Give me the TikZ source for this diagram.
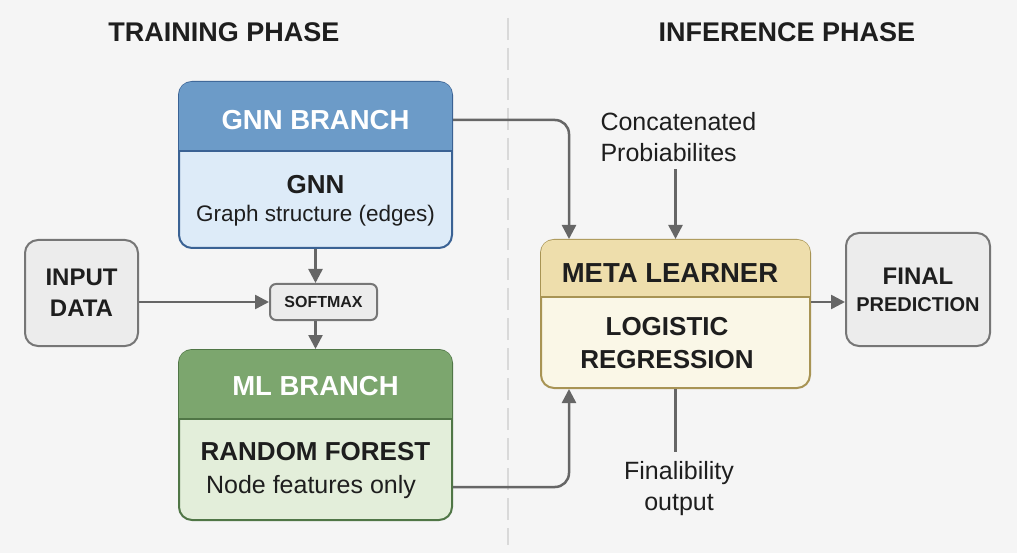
\documentclass[tikz,border=0pt]{standalone}
\usepackage{fontspec}
\setmainfont{Liberation Sans}
\usetikzlibrary{arrows.meta, positioning, calc}

\definecolor{bgcol}{RGB}{245,245,245}
\definecolor{txtcol}{RGB}{30,30,30}
\definecolor{arrcol}{RGB}{102,102,102}
\definecolor{gnnhead}{RGB}{108,155,200}
\definecolor{gnnbody}{RGB}{221,235,248}
\definecolor{gnnline}{RGB}{58,98,148}
\definecolor{mlhead}{RGB}{124,166,110}
\definecolor{mlbody}{RGB}{227,238,218}
\definecolor{mlline}{RGB}{80,118,70}
\definecolor{metahead}{RGB}{238,222,172}
\definecolor{metabody}{RGB}{250,247,231}
\definecolor{metaline}{RGB}{168,148,84}
\definecolor{greyfill}{RGB}{236,236,236}
\definecolor{greyline}{RGB}{118,118,118}

\begin{document}
\begin{tikzpicture}[x=1pt, y=-1pt, text=txtcol]
\tikzstyle{box} = [rectangle, rounded corners=13pt, line width=2pt, inner sep=0pt]
\tikzstyle{greybox} = [box, draw=greyline, fill=greyfill]
\tikzstyle{title} = [font=\fontsize{27}{30}\selectfont\bfseries]
\tikzstyle{headtxt} = [font=\fontsize{27.5}{30}\selectfont\bfseries]
\tikzstyle{boldtxt} = [font=\fontsize{25}{31}\selectfont\bfseries, align=center]
\tikzstyle{plaintxt} = [font=\fontsize{25}{31}\selectfont]
\tikzstyle{line} = [draw=arrcol, line width=2.5pt, -{Triangle[length=14pt,width=14pt]}]

% background and bounds
\fill[bgcol] (0,0) rectangle (1017,553);
\useasboundingbox (0,0) rectangle (1017,553);
\draw[black!15, line width=1.2pt, dash pattern=on 22pt off 8pt] (508,18) -- (508,545);

\node (train) [title] at (224,32) {TRAINING PHASE};
\node (infer) [title] at (787,32) {INFERENCE PHASE};

% boxes
\node (gnn) [box, draw=gnnline, fill=gnnbody, minimum width=273pt, minimum height=166pt] at (315.5,165) {};
\node (ml) [box, draw=mlline, fill=mlbody, minimum width=273pt, minimum height=170pt] at (315.5,435) {};
\node (meta) [box, draw=metaline, fill=metabody, minimum width=269pt, minimum height=148pt] at (675.5,314) {};
\node (input) [greybox, minimum width=113pt, minimum height=106pt, boldtxt, font=\fontsize{24}{31}\selectfont\bfseries] at (81.5,293) {INPUT\\DATA};
\node (softmax) [greybox, rounded corners=6pt, minimum width=107pt, minimum height=36pt,
  font=\fontsize{16}{18}\selectfont\bfseries] at (323.5,302) {SOFTMAX};
\node (final) [greybox, minimum width=144pt, minimum height=113pt, boldtxt, font=\fontsize{24}{31}\selectfont\bfseries] at (918,289.5)
  {FINAL\\[-4pt]{\fontsize{20}{22}\selectfont PREDICTION}};

% header bands
\begin{scope}
\clip[rounded corners=12pt] ([shift={(1pt,-1pt)}]gnn.north west) rectangle ([shift={(-1pt,1pt)}]gnn.south east);
\fill[gnnhead] (gnn.north west) rectangle ([yshift=-70pt]gnn.north east);
\end{scope}
\draw[gnnline, line width=2pt] ([yshift=-70pt]gnn.north west) -- ([yshift=-70pt]gnn.north east);
\begin{scope}
\clip[rounded corners=12pt] ([shift={(1pt,-1pt)}]ml.north west) rectangle ([shift={(-1pt,1pt)}]ml.south east);
\fill[mlhead] (ml.north west) rectangle ([yshift=-70pt]ml.north east);
\end{scope}
\draw[mlline, line width=2pt] ([yshift=-70pt]ml.north west) -- ([yshift=-70pt]ml.north east);
\begin{scope}
\clip[rounded corners=12pt] ([shift={(1pt,-1pt)}]meta.north west) rectangle ([shift={(-1pt,1pt)}]meta.south east);
\fill[metahead] (meta.north west) rectangle ([yshift=-58pt]meta.north east);
\end{scope}
\draw[metaline, line width=2pt] ([yshift=-58pt]meta.north west) -- ([yshift=-58pt]meta.north east);

% texts in boxes
\node (gnnhd) [headtxt, text=white] at (315.5,120) {GNN BRANCH};
\node (gnntitle) [boldtxt, font=\fontsize{26}{31}\selectfont\bfseries] at (315.5,185) {GNN};
\node (gnnsub) [plaintxt, font=\fontsize{22.5}{31}\selectfont] at (315.5,216) {Graph structure (edges)};
\node (mlhd) [headtxt, text=white] at (315.5,386) {ML BRANCH};
\node (mltitle) [boldtxt, font=\fontsize{26}{31}\selectfont\bfseries] at (315.5,452) {RANDOM FOREST};
\node (mlsub) [plaintxt] at (311,487) {Node features only};
\node (metahd) [headtxt] at (670,273) {META LEARNER};
\node (metabd) [boldtxt, font=\fontsize{26}{33}\selectfont\bfseries] at (667,343) {LOGISTIC\\REGRESSION};

% free labels
\node (concat) [plaintxt, align=left, anchor=west] at (597,137) {Concatenated\\Probiabilites};
\node (finout) [plaintxt, align=center] at (679,489) {Finalibility\\output};

% connectors
\draw [line] (gnn.south) -- (gnn.south |- softmax.north);
\draw [line] (gnn.south |- softmax.south) -- (ml.north);
\draw [line] (input.east |- softmax) -- (softmax.west);
\draw [line, rounded corners=14pt] (gnn.east |- gnnhd) -| ([xshift=29pt]meta.north west);
\draw [line, rounded corners=14pt] (ml.east |- mlsub) -| ([xshift=29pt]meta.south west);
\draw [line] ([yshift=-4pt]meta.north |- concat.south) -- (meta.north);
\draw [line] (meta.east |- softmax) -- (final.west |- softmax);
\draw [draw=arrcol, line width=2.5pt] (meta.south) -- ([yshift=6pt]meta.south |- finout.north);
\end{tikzpicture}
\end{document}
